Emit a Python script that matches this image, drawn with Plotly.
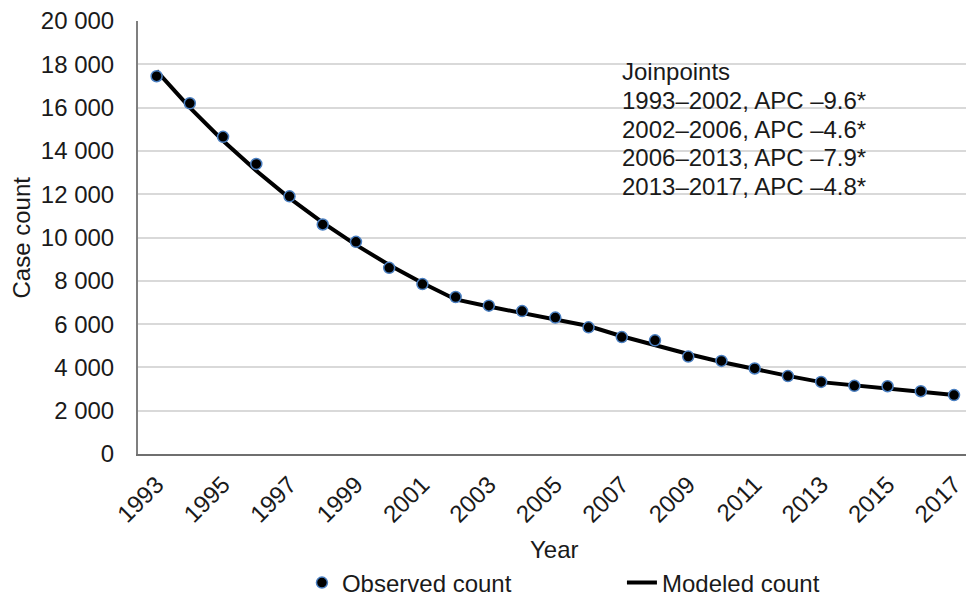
import plotly.graph_objects as go

years = list(range(1993, 2018))
observed = [17450, 16200, 14650, 13400, 11900, 10600, 9800, 8600, 7850, 7250,
            6850, 6600, 6300, 5850, 5400, 5250, 4500, 4300, 3950, 3600,
            3330, 3150, 3130, 2900, 2720]
modeled = [17700, 16000, 14470, 13080, 11820, 10690, 9660, 8730, 7900, 7140,
           6810, 6500, 6200, 5910, 5440, 5010, 4620, 4250, 3920, 3610,
           3320, 3160, 3010, 2870, 2730]

x_tickvals = list(range(1993, 2018, 2))
x_ticktext = [str(v) for v in x_tickvals]
y_tickvals = list(range(0, 20001, 2000))
y_ticktext = ["0", "2 000", "4 000", "6 000", "8 000", "10 000", "12 000",
              "14 000", "16 000", "18 000", "20 000"]

annotation_lines = ["Joinpoints", "1993–2002, APC –9.6*", "2002–2006, APC –4.6*",
                    "2006–2013, APC –7.9*", "2013–2017, APC –4.8*"]

FONT = "Liberation Sans, Arial, sans-serif"
TXT = "#1a1a1a"
FS = 24

fig = go.Figure()
fig.add_trace(go.Scatter(
    x=years, y=modeled, mode="lines", name="Modeled count",
    line=dict(color="black", width=4), legendrank=2))
fig.add_trace(go.Scatter(
    x=years, y=observed, mode="markers", name="Observed count",
    marker=dict(color="black", size=11, line=dict(color="#4a7fc1", width=1.5)),
    legendrank=1))

# annotation block: one line per annotation for exact line spacing
top_y = 0.883
step = 0.0663
for i, line in enumerate(annotation_lines):
    fig.add_annotation(
        x=0.582, y=top_y - i * step, xref="paper", yref="paper",
        xanchor="left", yanchor="middle", text=line, showarrow=False, align="left",
        font=dict(family=FONT, size=FS, color=TXT))

# axis titles
fig.add_annotation(x=-0.1401, y=0.5, xref="paper", yref="paper", text="Case count",
                   textangle=-90, showarrow=False, xanchor="center", yanchor="middle",
                   font=dict(family=FONT, size=FS, color=TXT))
fig.add_annotation(x=0.5036, y=-0.2217, xref="paper", yref="paper", text="Year",
                   showarrow=False, xanchor="center", yanchor="middle",
                   font=dict(family=FONT, size=FS, color=TXT))

fig.update_layout(
    width=966, height=601,
    margin=dict(l=138, r=0, t=21, b=147, autoexpand=False),
    paper_bgcolor="white", plot_bgcolor="white",
    font=dict(family=FONT, size=FS, color=TXT),
    showlegend=True,
    legend=dict(orientation="h", x=0.198, xanchor="left",
                yref="container", y=0.030, yanchor="middle",
                font=dict(family=FONT, size=FS, color=TXT),
                entrywidth=275, entrywidthmode="pixels", bgcolor="rgba(0,0,0,0)"),
    xaxis=dict(range=[1992.44, 2017.36], tickmode="array", tickvals=x_tickvals,
               ticktext=x_ticktext, tickangle=-45, showgrid=False, zeroline=False,
               showline=True, linecolor="#6f6f6f", linewidth=2,
               ticks="outside", ticklen=0, tickcolor="rgba(0,0,0,0)",
               ticklabelstandoff=5, ticklabeloverflow="allow",
               automargin=False),
    yaxis=dict(range=[0, 20000], tickmode="array", tickvals=y_tickvals,
               ticktext=y_ticktext, showgrid=True, gridcolor="#d9d9d9", gridwidth=1.5,
               zeroline=False, showline=True, linecolor="#7f7f7f", linewidth=2,
               ticks="outside", ticklen=0, tickcolor="rgba(0,0,0,0)",
               ticklabelstandoff=17,
               automargin=False),
)

fig.write_html("out.html")
